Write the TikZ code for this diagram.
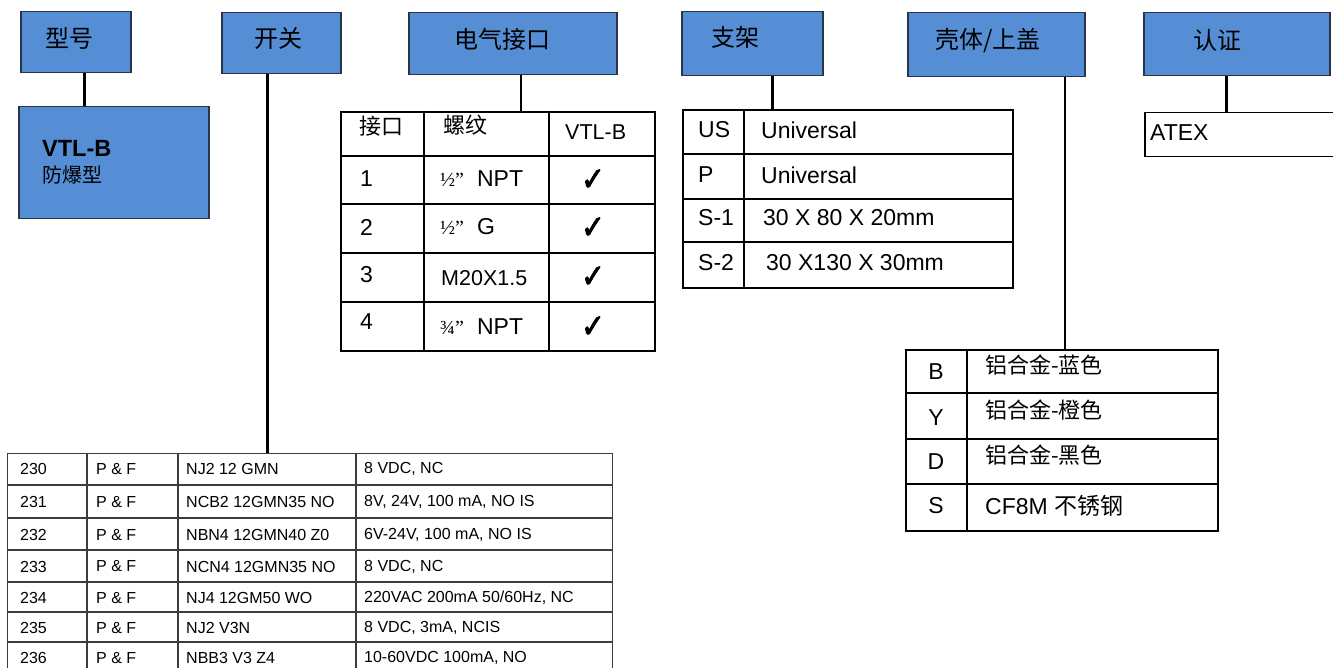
\documentclass[tikz,border=0pt]{standalone}
\usepackage{fontspec}
\setmainfont{Liberation Sans}
\newfontfamily\cjk{Noto Sans CJK SC}
\newfontfamily\symb[FakeBold=2.5,FakeStretch=0.85]{DejaVu Sans}
\newfontfamily\serif{Liberation Serif}
\definecolor{boxblue}{RGB}{85,142,213}
\definecolor{boxline}{RGB}{40,52,72}
\definecolor{gridgray}{RGB}{60,60,60}
\tikzset{
  hdrbox/.style={draw=boxline, fill=boxblue, line width=1.5pt, anchor=north west, inner sep=0pt},
  hdrtx/.style={font=\cjk\fontsize{24}{24}\selectfont, inner sep=0pt},
  tblbox/.style={draw, line width=2pt, anchor=north west, inner sep=0pt},
  tblline/.style={line width=2pt},
  lnk/.style={line width=3pt},
  bigtx/.style={font=\fontsize{23}{23}\selectfont, inner sep=0pt, anchor=west},
  midtx/.style={font=\fontsize{21.5}{21.5}\selectfont, inner sep=0pt, anchor=west},
  cjktx/.style={font=\cjk\fontsize{22}{22}\selectfont, inner sep=0pt, anchor=west},
  smalltx/.style={font=\fontsize{16}{16}\selectfont, inner sep=0pt, anchor=west},
  chk/.style={font=\symb\fontsize{33}{33}\selectfont, inner sep=0pt}
}
\begin{document}
\begin{tikzpicture}[x=1pt,y=-1pt]
  \useasboundingbox (0,0) rectangle (1333,668);
  % header boxes
  \node[hdrbox, minimum width=110pt, minimum height=61pt] (xh) at (20,11) {};
  \node[hdrbox, minimum width=119pt, minimum height=61pt] (kg) at (221,12) {};
  \node[hdrbox, minimum width=208pt, minimum height=62pt] (dq) at (408,12) {};
  \node[hdrbox, minimum width=141pt, minimum height=64pt] (zj) at (681,11) {};
  \node[hdrbox, minimum width=177pt, minimum height=64pt] (kt) at (907,12) {};
  \node[hdrbox, minimum width=186pt, minimum height=63pt] (rz) at (1143,12) {};
  \node[hdrtx] (xh-t) at (69.5,38) {型号};
  \node[hdrtx] (kg-t) at (278,38) {开关};
  \node[hdrtx] (dq-t) at (502,39.5) {电气接口};
  \node[hdrtx] (zj-t) at (735,37.5) {支架};
  \node[hdrtx] (kt-t) at (988,41) {壳体/上盖};
  \node[hdrtx] (rz-t) at (1217,40) {认证};

  % model
  \node[hdrbox, minimum width=190pt, minimum height=112pt] (vtl) at (18,106) {};
  \node[font=\bfseries\fontsize{23.5}{23.5}\selectfont, inner sep=0pt, anchor=west] (vtl-t) at (42,148.5) {VTL-B};
  \node[font=\cjk\fontsize{20}{20}\selectfont, inner sep=0pt, anchor=west] (vtl-s) at (42,175) {防爆型};

  % electrical connection table
  \node[tblbox, minimum width=314pt, minimum height=239pt] (jk) at (340,111) {};
  \draw[tblline] (424,111) -- (424,350) (549,111) -- (549,350);
  \foreach \y in {156,204,253,302}
    \draw[tblline] (340,\y) -- (654,\y);
  \node[cjktx, anchor=center] (jk-h1) at (381,126) {接口};
  \node[cjktx, anchor=center] (jk-h2) at (465,125) {螺纹};
  \node[midtx] (jk-h3) at (565,132) {VTL-B};
  \node[bigtx] (jk-1) at (360,179) {1};
  \node[bigtx] (jk-2) at (360,227) {2};
  \node[bigtx] (jk-3) at (360,274.5) {3};
  \node[bigtx] (jk-4) at (360,322) {4};
  \node[bigtx] (jk-1b) at (440,179) {{\serif\fontsize{20}{20}\selectfont ½”}\hspace{13pt}NPT};
  \node[bigtx] (jk-2b) at (440,227) {{\serif\fontsize{20}{20}\selectfont ½”}\hspace{13pt}G};
  \node[midtx] (jk-3b) at (441,278) {M20X1.5};
  \node[bigtx] (jk-4b) at (440,327) {{\serif\fontsize{20}{20}\selectfont ¾”}\hspace{13pt}NPT};
  \foreach \y [count=\i] in {180,228,277,327}
    \node[chk] (jk-c\i) at (593,\y) {✓};

  % bracket table
  \node[tblbox, minimum width=330pt, minimum height=178pt] (zjt) at (682,109) {};
  \draw[tblline] (744,109) -- (744,287);
  \foreach \y in {154,199,242}
    \draw[tblline] (682,\y) -- (1012,\y);
  \node[bigtx] (zj-1) at (698,130) {US};
  \node[bigtx] (zj-2) at (698,175) {P};
  \node[bigtx] (zj-3) at (698,218) {S-1};
  \node[bigtx] (zj-4) at (698,263) {S-2};
  \node[bigtx] (zj-1b) at (761,130) {Universal};
  \node[bigtx] (zj-2b) at (761,175) {Universal};
  \node[bigtx] (zj-3b) at (763,218) {30 X 80 X 20mm};
  \node[bigtx] (zj-4b) at (766,263) {30 X130 X 30mm};

  % housing table
  \node[tblbox, line width=1.5pt, minimum width=312pt, minimum height=181pt] (ktt) at (905,349) {};
  \draw[line width=1.5pt] (967,349) -- (967,530);
  \foreach \y in {393,439,484}
    \draw[line width=1.5pt] (905,\y) -- (1217,\y);
  \node[bigtx, anchor=center] (kt-1) at (936,372) {B};
  \node[bigtx, anchor=center] (kt-2) at (936,418) {Y};
  \node[bigtx, anchor=center] (kt-3) at (936,462) {D};
  \node[bigtx, anchor=center] (kt-4) at (936,506) {S};
  \node[cjktx] (kt-1b) at (985,365) {铝合金-蓝色};
  \node[cjktx] (kt-2b) at (985,410) {铝合金-橙色};
  \node[cjktx] (kt-3b) at (985,455) {铝合金-黑色};
  \node[bigtx] (kt-4b) at (985,506) {CF8M {\cjk\fontsize{23}{23}\selectfont 不锈钢}};

  % certificate
  \node[tblbox, line width=1.5pt, minimum width=220pt, minimum height=44pt] (atx) at (1144,112) {};
  \node[bigtx] (atx-t) at (1150,133) {ATEX};

  % switch table
  \node[tblbox, draw=gridgray, line width=1.2pt, minimum width=605pt, minimum height=240pt] (sw) at (7,453) {};
  \foreach \x in {87,178,356}
    \draw[gridgray, line width=1.2pt] (\x,453) -- (\x,693);
  \foreach \y in {485,518,550,582,612,642}
    \draw[gridgray, line width=1.2pt] (7,\y) -- (612,\y);
  \foreach \y/\num/\cd/\spec in {469/230/NJ2 12 GMN/{8 VDC, NC},
      502/231/NCB2 12GMN35 NO/{8V, 24V, 100 mA, NO IS},
      535/232/NBN4 12GMN40 Z0/{6V-24V, 100 mA, NO IS},
      566.5/233/NCN4 12GMN35 NO/{8 VDC, NC},
      598/234/NJ4 12GM50 WO/{220VAC 200mA 50/60Hz, NC},
      628/235/NJ2 V3N/{8 VDC, 3mA, NCIS},
      658/236/NBB3 V3 Z4/{10-60VDC 100mA, NO}}{
    \node[smalltx] (sw-\num-a) at (20,\y) {\num};
    \node[smalltx] (sw-\num-b) at (96,\y) {P \& F};
    \node[smalltx] (sw-\num-c) at (186,\y) {\cd};
    \node[smalltx] (sw-\num-d) at (364,\y) {\spec};
  }

  % connectors
  \draw[lnk] ([xshift=9pt]xh.south) -- ([xshift=9pt]xh.south |- vtl.north);
  \draw[lnk] ([xshift=-13.5pt]kg.south) -- ([xshift=-13.5pt]kg.south |- sw.north);
  \draw[line width=2pt] ([xshift=8pt]dq.south) -- ([xshift=8pt]dq.south |- jk.north);
  \draw[lnk] ([xshift=20.5pt]zj.south) -- ([xshift=20.5pt]zj.south |- zjt.north);
  \draw[line width=1.5pt] ([xshift=68.5pt]kt.south) -- ([xshift=68.5pt]kt.south |- ktt.north);
  \draw[lnk] ([xshift=-10pt]rz.south) -- ([xshift=-10pt]rz.south |- atx.north);
\end{tikzpicture}
\end{document}
